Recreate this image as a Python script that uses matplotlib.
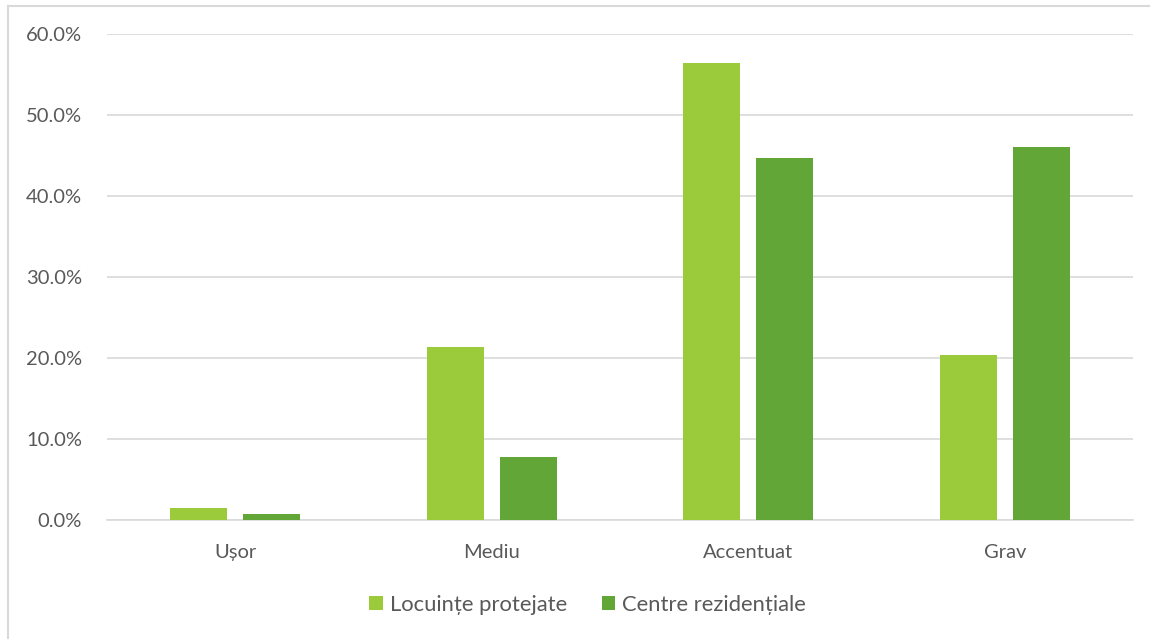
import numpy as np
import matplotlib.pyplot as plt
from matplotlib.lines import Line2D

categories = ['Ușor', 'Mediu', 'Accentuat', 'Grav']
locuinte = [1.5, 21.4, 56.4, 20.4]
centre = [0.7, 7.8, 44.7, 46.1]
series_names = ['Locuințe protejate', 'Centre rezidențiale']
colors = ['#9BCB3B', '#63A638']
yticks = [0, 10, 20, 30, 40, 50, 60]

plt.rcParams['font.family'] = ['Lato', 'DejaVu Sans']
text_color = '#595959'

fig = plt.figure(figsize=(11.5, 6.39), dpi=100)
ax = fig.add_axes([107 / 1150, 1 - 520 / 639, 1026 / 1150, 486 / 639])

x = np.arange(len(categories))
w = 0.222
off = 0.142
ax.bar(x - off, locuinte, w, color=colors[0], label=series_names[0], zorder=3)
ax.bar(x + off, centre, w, color=colors[1], label=series_names[1], zorder=3)

ax.set_xlim(-0.5, len(categories) - 0.5)
ax.set_ylim(0, 60)
ax.set_yticks(yticks)
ax.set_yticklabels([f'{v:.1f}%' for v in yticks])
ax.set_xticks(x)
ax.set_xticklabels(categories)
ax.tick_params(axis='both', length=0, colors=text_color, labelsize=14.5)
ax.tick_params(axis='y', pad=18)
ax.tick_params(axis='x', pad=17)
ax.grid(axis='y', color='#D9D9D9', linewidth=1.2, zorder=0)
for s in ['top', 'right', 'left']:
    ax.spines[s].set_visible(False)
ax.spines['bottom'].set_color('#D9D9D9')
ax.spines['bottom'].set_linewidth(1.2)

leg = fig.legend(loc='center', bbox_to_anchor=(0.511, 1 - 605 / 639), ncol=2,
                 frameon=False, fontsize=15.8, handlelength=0.62, handleheight=0.62,
                 handletextpad=0.3, columnspacing=1.6)
for t in leg.get_texts():
    t.set_color(text_color)

# chart area border (top and left edges only fall inside the image)
bx, by = 7.5 / 1150, 1 - 5.5 / 639
fig.add_artist(Line2D([bx, 1.01], [by, by], transform=fig.transFigure,
                      color='#D9D9D9', linewidth=1.5))
fig.add_artist(Line2D([bx, bx], [-0.01, by], transform=fig.transFigure,
                      color='#D9D9D9', linewidth=1.5))

fig.savefig('out.png', dpi=100)
